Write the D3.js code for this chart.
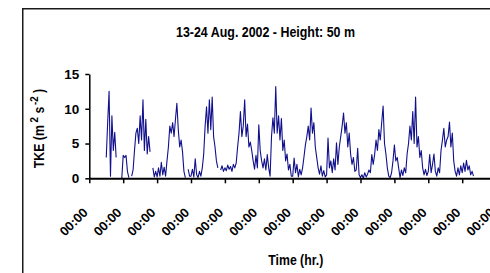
<!DOCTYPE html>
<html>
<head>
<meta charset="utf-8">
<script src="https://cdn.jsdelivr.net/npm/d3@7"></script>
<style>
  html, body { margin: 0; padding: 0; background: #fff; overflow: hidden; }
  svg { display: block; }
  text { font-family: "Liberation Sans", Arial, sans-serif; font-weight: bold; fill: #000; }
</style>
</head>
<body>
<script>
// chart texts
const chartTitle = '13-24 Aug. 2002 - Height: 50 m';
const xTitle = 'Time (hr.)';

// hourly TKE values (m2 s-2), one array per day (null = no data)
const aug13 = [null, null, null, null, null, null, null, null, null, null, null, null,
  3.0, 8.0, 12.5, 0.3, 9.0, 4.0, 6.6, 3.0, null, null, null, 0.0];
const aug14 = [3.3, 3.0, 3.3, 1.0, 0.1, null, 0.3, 1.2, 4.0, 6.5, 7.2, 5.0,
  9.0, 5.5, 11.3, 4.0, 8.5, 3.5, 6.0, 3.8, null, 1.5, 0.2, 1.0];
const aug15 = [0.2, 1.5, 0.3, 2.3, 0.5, 1.6, 0.3, 2.5, 4.5, 7.5, 6.5, 8.0,
  6.0, 8.5, 10.8, 7.0, 4.5, 5.5, 3.8, 1.0, 0.1, null, 1.3, 0.3];
const aug16 = [0.3, 1.3, 0.2, 2.8, 0.5, 0.1, 1.0, 0.3, 1.5, 3.5, 7.5, 10.3,
  6.5, 11.3, 7.0, 11.7, 6.0, 4.5, 2.5, 1.5, null, 1.2, 1.8, 1.0];
const aug17 = [1.5, 1.1, 1.9, 1.3, 1.7, 1.0, 2.0, 1.5, 2.2, 4.5, 6.5, 9.6,
  6.0, 7.5, 11.3, 6.0, 7.8, 4.5, 5.2, 4.0, 2.5, 1.3, 3.3, 1.5];
const aug18 = [7.7, 4.0, 2.5, 1.5, 2.8, 1.2, 3.4, 1.5, 0.3, 6.0, 8.7, 6.5,
  13.2, 6.5, 9.0, 5.5, 8.6, 4.0, 5.5, 2.5, 3.5, 1.2, 2.0, 0.3];
const aug19 = [0.3, 2.9, 0.8, 2.0, 0.2, 1.3, 0.5, 1.5, 3.1, 4.8, 6.0, 7.5,
  5.5, 10.1, 6.5, 8.0, 4.5, 3.0, 1.5, 0.6, 1.8, 0.3, 1.1, 0.2];
const aug20 = [0.5, 5.8, 1.5, 2.5, 0.8, 2.8, 1.2, 5.1, 2.0, 4.5, 6.0, 7.5,
  9.4, 6.5, 8.0, 4.5, 6.5, 3.5, 2.0, 3.0, 1.0, 1.2, 4.3, 0.5];
const aug21 = [0.1, 0.5, 0.0, 0.8, 0.2, 0.6, 1.2, 0.8, 3.4, 2.0, 3.4, 5.5,
  4.0, 7.0, 5.5, 8.0, 10.4, 5.0, 3.5, 1.5, 0.3, 0.1, 0.8, 2.5];
const aug22 = [4.8, 2.5, 3.0, 1.5, 0.1, 1.2, 0.4, 1.5, 0.8, 3.5, 5.0, 7.5,
  5.5, 9.6, 5.0, 11.7, 4.5, 6.0, 3.0, 4.0, 1.5, 0.5, 1.3, 0.4];
const aug23 = [1.0, 3.4, 0.8, 2.0, 3.5, 1.0, 0.3, 1.5, 0.8, 4.0, 5.5, 7.2,
  4.5, 5.5, 6.0, 8.1, 4.5, 6.5, 2.5, 1.0, 0.3, 1.5, 0.5, 1.8];
const aug24 = [0.8, 2.2, 1.0, 2.6, 1.2, 1.8, 0.5, 1.0, 0.3];

const days = [aug13, aug14, aug15, aug16, aug17, aug18, aug19, aug20, aug21, aug22, aug23, aug24];

const yTicks = [0, 5, 10, 15];
const xTicks = [0, 1, 2, 3, 4, 5, 6, 7, 8, 9, 10, 11, 12];
const xTickLabels = ['00:00', '00:00', '00:00', '00:00', '00:00', '00:00', '00:00',
  '00:00', '00:00', '00:00', '00:00', '00:00', '00:00'];

// flatten into points (x in days)
const tke = [];
days.forEach((day, d) => {
  day.forEach((v, h) => tke.push({ t: d + h / 24, v: v }));
});

const W = 490, H = 273;
const svg = d3.select('body').append('svg')
  .attr('width', W)
  .attr('height', H);

// outer frame (runs off the right and bottom edge like the picture)
svg.append('rect')
  .attr('x', 22.75).attr('y', 8.75)
  .attr('width', 600).attr('height', 400)
  .attr('fill', 'none')
  .attr('stroke', '#1a1a1a')
  .attr('stroke-width', 1.5);

const x = d3.scaleLinear().domain([0, 12]).range([89.3, 496.1]);
const y = d3.scaleLinear().domain([0, 15]).range([178.3, 74]);

// title
svg.append('text')
  .attr('x', 265.5).attr('y', 36.5)
  .attr('text-anchor', 'middle')
  .style('font-size', '14px')
  .attr('textLength', 179)
  .attr('lengthAdjust', 'spacingAndGlyphs')
  .text(chartTitle);

// data line
const line = d3.line()
  .defined(d => d.v != null)
  .x(d => x(d.t))
  .y(d => y(d.v));

svg.append('path')
  .datum(tke)
  .attr('d', line)
  .attr('fill', 'none')
  .attr('stroke', '#10108c')
  .attr('stroke-width', 1.1)
  .attr('stroke-linejoin', 'round');

// y axis
const yAxis = svg.append('g')
  .attr('transform', `translate(${x(0)},0)`)
  .call(d3.axisLeft(y).tickValues(yTicks).tickSize(4).tickSizeOuter(0).tickPadding(6));
yAxis.select('.domain').attr('stroke', '#000').attr('stroke-width', 1.5);
yAxis.selectAll('.tick line').attr('stroke', '#000').attr('stroke-width', 1.5);
yAxis.selectAll('.tick text')
  .style('font-size', '13.5px')
  .style('font-family', '"Liberation Sans", Arial, sans-serif')
  .style('font-weight', 'bold')
  .attr('fill', '#000');

// x axis
const xAxis = svg.append('g')
  .attr('transform', `translate(0,${y(0)})`)
  .call(d3.axisBottom(x).tickValues(xTicks).tickSize(5).tickSizeOuter(0)
    .tickFormat((d, i) => xTickLabels[i]));
xAxis.select('.domain').attr('stroke', '#000').attr('stroke-width', 2);
xAxis.selectAll('.tick line').attr('stroke', '#000').attr('stroke-width', 1.5);
xAxis.selectAll('.tick text')
  .style('font-size', '13px')
  .style('font-family', '"Liberation Sans", Arial, sans-serif')
  .style('font-weight', 'bold')
  .attr('fill', '#000')
  .attr('text-anchor', 'end')
  .attr('x', 0).attr('y', 0).attr('dy', 0)
  .attr('transform', 'translate(-1.3,35) rotate(-45)');

// axis titles
svg.append('text')
  .attr('x', 295.8).attr('y', 265)
  .attr('text-anchor', 'middle')
  .style('font-size', '14px')
  .attr('textLength', 55)
  .attr('lengthAdjust', 'spacingAndGlyphs')
  .text(xTitle);

const yLab = svg.append('text')
  .attr('transform', 'translate(44,128.5) rotate(-90) scale(0.88,1)')
  .attr('text-anchor', 'middle')
  .style('font-size', '14px');
yLab.append('tspan').text('TKE (m');
yLab.append('tspan').attr('dy', -6).attr('dx', 3).style('font-size', '11px').text('2');
yLab.append('tspan').attr('dy', 6).attr('dx', 4).text('s');
yLab.append('tspan').attr('dy', -6).attr('dx', 2).style('font-size', '11px').text('-2');
yLab.append('tspan').attr('dy', 6).attr('dx', 4).text(')');
</script>
</body>
</html>
